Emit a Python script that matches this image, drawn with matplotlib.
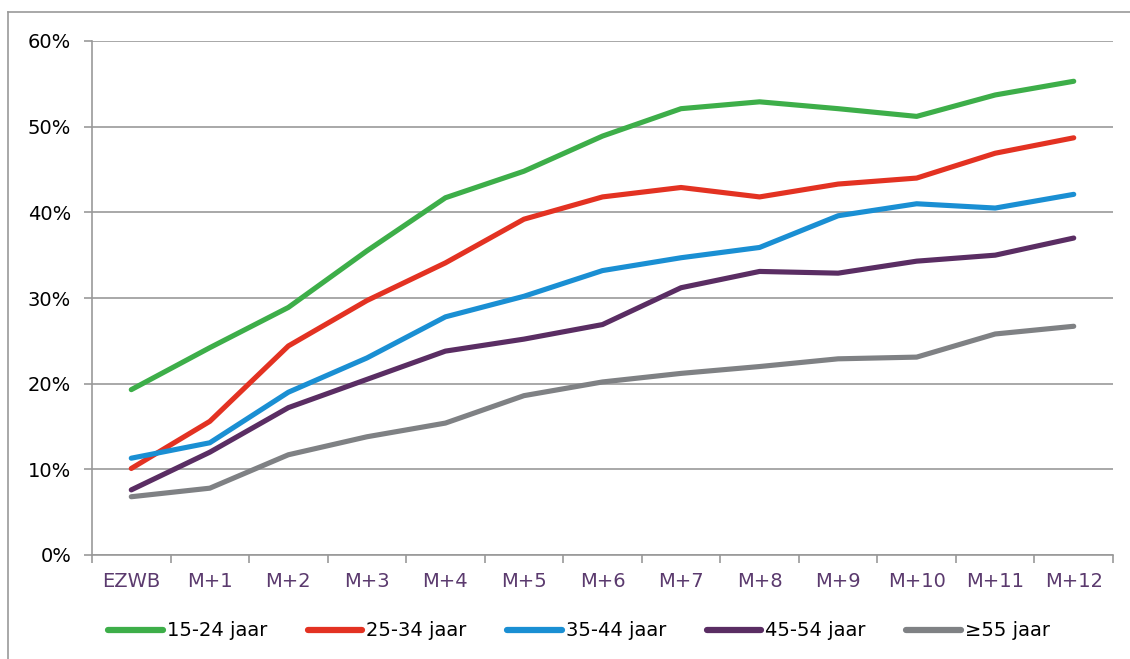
import matplotlib
matplotlib.use("Agg")
import matplotlib.pyplot as plt
from matplotlib.lines import Line2D
from matplotlib.ticker import FuncFormatter, MultipleLocator, FixedLocator

plt.rcParams["font.family"] = ["DejaVu Sans"]

categories = ["EZWB", "M+1", "M+2", "M+3", "M+4", "M+5", "M+6",
              "M+7", "M+8", "M+9", "M+10", "M+11", "M+12"]

age_15_24 = [19.3, 24.2, 28.9, 35.5, 41.7, 44.8, 48.9, 52.1, 52.9, 52.1, 51.2, 53.7, 55.3]
age_25_34 = [10.1, 15.6, 24.4, 29.7, 34.1, 39.2, 41.8, 42.9, 41.8, 43.3, 44.0, 46.9, 48.7]
age_35_44 = [11.3, 13.1, 19.0, 23.0, 27.8, 30.2, 33.2, 34.7, 35.9, 39.6, 41.0, 40.5, 42.1]
age_45_54 = [7.6, 12.0, 17.2, 20.5, 23.8, 25.2, 26.9, 31.2, 33.1, 32.9, 34.3, 35.0, 37.0]
age_55plus = [6.8, 7.8, 11.7, 13.8, 15.4, 18.6, 20.2, 21.2, 22.0, 22.9, 23.1, 25.8, 26.7]

series = [
    ("15-24 jaar", age_15_24, "#3DAE49"),
    ("25-34 jaar", age_25_34, "#E33222"),
    ("35-44 jaar", age_35_44, "#1A8FD3"),
    ("45-54 jaar", age_45_54, "#5A2D63"),
    ("\u226555 jaar", age_55plus, "#7F8184"),
]

fig = plt.figure(figsize=(11.3, 6.59), dpi=100)
ax = fig.add_axes([92 / 1130, 1 - 555 / 659, (1113 - 92) / 1130, (555 - 41) / 659])

x = list(range(len(categories)))
for name, vals, col in series:
    ax.plot(x, vals, color=col, lw=3.7, solid_capstyle="round",
            solid_joinstyle="round", label=name)

ax.set_xlim(-0.5, len(categories) - 0.5)
ax.set_ylim(0, 60)
ax.yaxis.set_major_locator(MultipleLocator(10))
ax.yaxis.set_major_formatter(FuncFormatter(lambda v, p: f"{v:.0f}%"))
ax.grid(axis="y", color="#999999", lw=1.2)
ax.set_axisbelow(True)

# category labels centred, tick marks between categories
ax.set_xticks(x)
ax.set_xticklabels(categories, color="#5B3A6E", fontsize=14)
ax.tick_params(axis="x", which="major", length=0, pad=12)
ax.xaxis.set_minor_locator(FixedLocator([i - 0.5 for i in range(len(categories) + 1)]))
ax.tick_params(axis="x", which="minor", length=6, color="#999999", width=1.2)
ax.tick_params(axis="y", length=6, color="#999999", width=1.2, labelsize=14,
               labelcolor="black", pad=9)

for s in ["top", "right"]:
    ax.spines[s].set_visible(False)
for s in ["left", "bottom"]:
    ax.spines[s].set_color("#999999")
    ax.spines[s].set_linewidth(1.2)

handles = [Line2D([0], [0], color=c, lw=4.5, solid_capstyle="round") for _, _, c in series]
fig.legend(handles, [n for n, _, _ in series], loc="center",
           bbox_to_anchor=(579 / 1130, 1 - 631 / 659), ncol=5, frameon=False,
           fontsize=14, handlelength=2.8, handletextpad=0.2, columnspacing=2.1)

# outer chart frame (left and top edges visible)
fig.add_artist(Line2D([8 / 1130, 8 / 1130], [0, 1 - 12 / 659], color="#999999", lw=1.2,
                      transform=fig.transFigure))
fig.add_artist(Line2D([8 / 1130, 1], [1 - 12 / 659, 1 - 12 / 659], color="#999999", lw=1.2,
                      transform=fig.transFigure))

fig.savefig("out.png", dpi=100)
